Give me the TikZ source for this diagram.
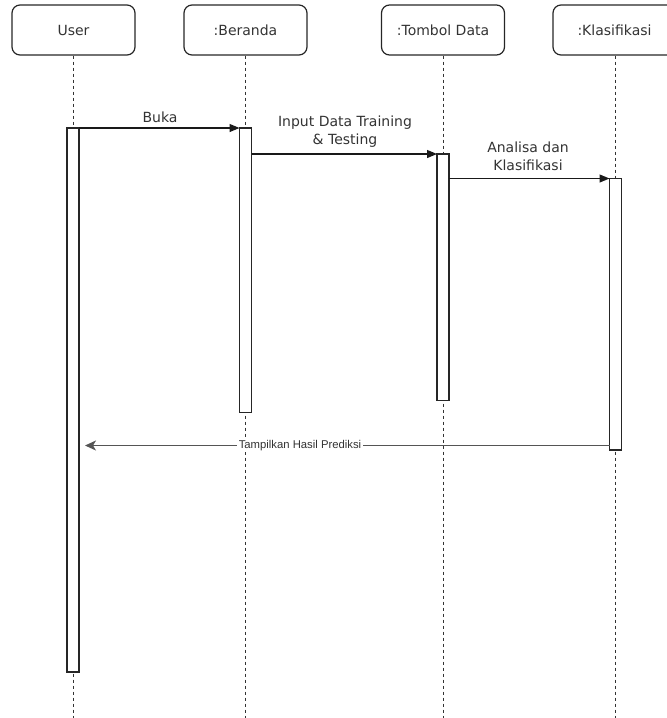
\documentclass[tikz,border=0pt]{standalone}
\usepackage{fontspec}
\setmainfont{DejaVu Sans}
\newfontfamily\retfont{Liberation Sans}
\usetikzlibrary{arrows.meta}
\definecolor{txt}{HTML}{333333}
\definecolor{retline}{HTML}{555555}
\begin{document}
\begin{tikzpicture}[x=1pt,y=-1pt,
  head/.style={draw=black!85, line width=1.2pt, rounded corners=8pt, minimum width=123pt, minimum height=50pt, inner sep=0pt, font=\fontsize{14}{17}\selectfont, text=txt},
  life/.style={draw=black!80, line width=0.9pt, dash pattern=on 3pt off 3pt},
  act/.style={draw=black!85, line width=1.2pt, fill=white},
  msg/.style={draw=black!90, line width=1.2pt, -{Triangle[length=10pt,width=8pt]}},
  ret/.style={draw=retline, line width=1.3pt, -{Stealth[length=11pt,width=10pt,inset=3pt]}},
  lbl/.style={font=\fontsize{14}{18}\selectfont, text=txt, align=center, inner sep=0pt},
  rlbl/.style={font=\retfont\fontsize{11.3}{13}\selectfont, text=txt, fill=white, inner sep=1.5pt}
]
\useasboundingbox (0,0) rectangle (667,718);
% headers
\node[head] (hu) at (73.5,30) {User};
\node[head] (hb) at (245.5,30) {:Beranda};
\node[head] (ht) at (443,30) {:Tombol Data};
\node[head] (hk) at (614.5,30) {:Klasifikasi};
% lifeline ends
\coordinate (eu) at (73,718);
\coordinate (eb) at (245.5,718);
\coordinate (et) at (443,718);
\coordinate (ek) at (615.5,718);
\draw[life] (hu.south -| eu) -- (eu);
\draw[life] (hb.south -| eb) -- (eb);
\draw[life] (ht.south -| et) -- (et);
\draw[life] (hk.south -| ek) -- (ek);
% activations
\draw[act] (67,128) rectangle (79,672);
\coordinate (au1) at (79,128);
\coordinate (au2) at (79,445.5);
\draw[act] (239.5,128) rectangle (251.5,412.5);
\coordinate (ab1) at (239.5,128);
\coordinate (ab2) at (251.5,154);
\draw[act] (437,154) rectangle (449,400.5);
\coordinate (at1) at (437,154);
\coordinate (at2) at (449,178.5);
\draw[act] (609.5,178.5) rectangle (621.5,450);
\coordinate (ak1) at (609.5,178.5);
\coordinate (ak2) at (609.5,445.5);
\coordinate (uret) at (85,445.5);
% messages
\draw[msg] (au1) -- (ab1);
\node[lbl] (l1) at (160,117.5) {Buka};
\draw[msg] (ab2) -- (at1);
\node[lbl] (l2) at (345,131.5) {Input Data Training\\\& Testing};
\draw[msg] (at2) -- (ak1);
\node[lbl] (l3) at (528,156.5) {Analisa dan\\Klasifikasi};
\draw[ret] (ak2) -- (uret);
\node[rlbl] (l4) at (300,445.5) {Tampilkan Hasil Prediksi};
\end{tikzpicture}
\end{document}
